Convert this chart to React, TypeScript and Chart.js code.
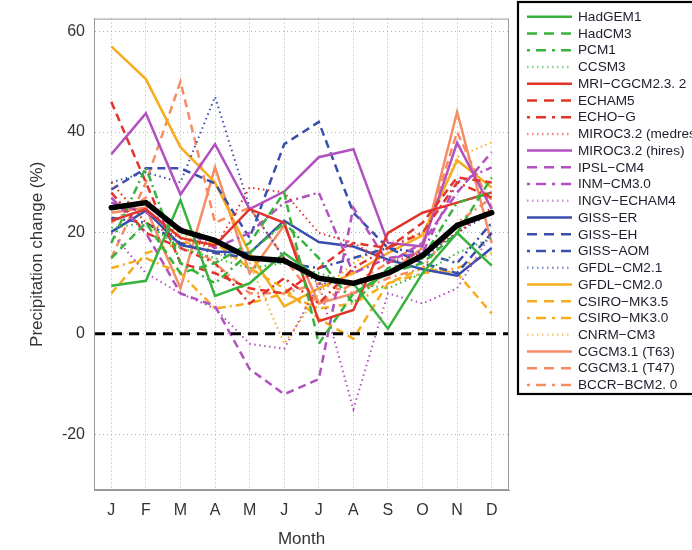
import React, { useEffect, useRef } from "react";
import { Chart, registerables } from "chart.js";

Chart.register(...registerables);

const months = ["J", "F", "M", "A", "M", "J", "J", "A", "S", "O", "N", "D"];
const yTicks = [60, 40, 20, 0, -20];
const zeroLevel = 0;

const hadGEM1 = [9.5, 10.5, 26.5, 7.5, 10, 16, 11, 10, 1, 12, 20, 13.5];
const hadCM3 = [15, 22, 12, 14, 18, 28, -2, 8, 12, 14, 20, 31];
const pcm1 = [18, 33, 14, 10, 16, 22, 15, 6, 13, 15, 26, 28];
const ccsm3 = [21, 22, 17, 15, 13, 14, 12, 10, 9, 12, 16, 19];
const mri = [22.4, 24.7, 19, 17.5, 24.7, 22, 2.5, 4.7, 20, 24, 26, 28];
const echam5 = [46, 30, 14, 12, 9, 8, 13, 18, 17, 22, 31, 30];
const echoG = [28, 20, 17, 14, 6, 11, 6, 13, 17, 20, 30, 27];
const mirocMed = [30, 22, 19, 17, 29, 28, 20, 18, 14, 16, 20, 25];
const mirocHi = [35.6, 43.7, 27.6, 37.6, 24.7, 28.2, 35, 36.6, 18, 17.3, 37.9, 24.7];
const ipsl = [27, 20, 8, 5.5, -7, -12, -9, 25, 14, 18, 28, 36];
const inm = [26, 24, 21, 17, 20, 26, 28, 12, 15, 16, 30, 33];
const ingv = [20, 12, 8, 5, -2, -3, 10, -15, 8, 6, 9, 20];
const gissER = [20.2, 24.4, 17.6, 16.3, 16, 22.4, 18.2, 17.3, 14.7, 12.8, 11.5, 17];
const gissEH = [28.6, 32.8, 32.8, 29.8, 19, 37.6, 42, 24, 17, 14, 12, 20];
const gissAOM = [23, 22, 18, 16, 15, 14, 13, 15, 17, 16, 14, 22];
const gfdl21 = [30, 32, 30, 47, 25, 15, 10, 10, 12, 15, 20, 24];
const gfdl20 = [57, 50.5, 37, 30, 16, 5.4, 9, 12, 16, 19.5, 34.4, 29];
const csiro35 = [8, 16, 18, 18, 13, 9, 3, -1, 10, 13, 12, 4];
const csiro30 = [13, 15, 12, 5, 6, 8, 5, 6, 10, 12, 13, 16];
const cnrm = [30, 22, 20, 16, 14, -2, 8, 14, 18, 20, 35, 38];
const cgcmT63 = [24, 25, 9, 33, 12, 21.5, 6, 8, 12, 17, 44, 18];
const cgcmT47 = [15, 30, 50, 22, 25, 15, 6, 10, 14, 18, 40, 25];
const bccr = [22, 27, 19, 14, 8, 8, 10, 8, 11, 13, 22, 27];
const modelMean = [25, 26, 20.5, 18.5, 15, 14.5, 11, 10, 12, 15.5, 21.5, 24];

const GREEN = "rgb(55,178,60)";
const RED = "rgb(226,52,42)";
const MAGENTA = "rgb(178,80,192)";
const BLUE = "rgb(58,78,172)";
const ORANGE = "rgb(247,172,30)";
const SALMON = "rgb(246,140,100)";

type Sty = "solid" | "dash" | "dashdot" | "dot";

const models: { label: string; data: number[]; color: string; sty: Sty }[] = [
  { label: "HadGEM1", data: hadGEM1, color: GREEN, sty: "solid" },
  { label: "HadCM3", data: hadCM3, color: GREEN, sty: "dash" },
  { label: "PCM1", data: pcm1, color: GREEN, sty: "dashdot" },
  { label: "CCSM3", data: ccsm3, color: GREEN, sty: "dot" },
  { label: "MRI−CGCM2.3. 2", data: mri, color: RED, sty: "solid" },
  { label: "ECHAM5", data: echam5, color: RED, sty: "dash" },
  { label: "ECHO−G", data: echoG, color: RED, sty: "dashdot" },
  { label: "MIROC3.2 (medres)", data: mirocMed, color: RED, sty: "dot" },
  { label: "MIROC3.2 (hires)", data: mirocHi, color: MAGENTA, sty: "solid" },
  { label: "IPSL−CM4", data: ipsl, color: MAGENTA, sty: "dash" },
  { label: "INM−CM3.0", data: inm, color: MAGENTA, sty: "dashdot" },
  { label: "INGV−ECHAM4", data: ingv, color: MAGENTA, sty: "dot" },
  { label: "GISS−ER", data: gissER, color: BLUE, sty: "solid" },
  { label: "GISS−EH", data: gissEH, color: BLUE, sty: "dash" },
  { label: "GISS−AOM", data: gissAOM, color: BLUE, sty: "dashdot" },
  { label: "GFDL−CM2.1", data: gfdl21, color: BLUE, sty: "dot" },
  { label: "GFDL−CM2.0", data: gfdl20, color: ORANGE, sty: "solid" },
  { label: "CSIRO−MK3.5", data: csiro35, color: ORANGE, sty: "dash" },
  { label: "CSIRO−MK3.0", data: csiro30, color: ORANGE, sty: "dashdot" },
  { label: "CNRM−CM3", data: cnrm, color: ORANGE, sty: "dot" },
  { label: "CGCM3.1 (T63)", data: cgcmT63, color: SALMON, sty: "solid" },
  { label: "CGCM3.1 (T47)", data: cgcmT47, color: SALMON, sty: "dash" },
  { label: "BCCR−BCM2. 0", data: bccr, color: SALMON, sty: "dashdot" },
];

const plotDash: Record<Sty, number[]> = {
  solid: [],
  dash: [8, 5],
  dashdot: [8, 4, 2, 4],
  dot: [1.5, 3.5],
};
const legendDash: Record<Sty, number[]> = {
  solid: [],
  dash: [10, 7],
  dashdot: [3, 6, 10, 6],
  dot: [1.5, 3.5],
};

const FONT = '"Liberation Sans", Arial, Helvetica, sans-serif';

const framePlugin = {
  id: "frameAndLegend",
  afterDatasetsDraw(chart: any) {
    const ctx = chart.ctx;
    const a = chart.chartArea;
    const y0 = chart.scales.y.getPixelForValue(zeroLevel);
    ctx.save();
    ctx.strokeStyle = "#000";
    ctx.lineWidth = 3;
    ctx.setLineDash([10, 7]);
    ctx.beginPath();
    ctx.moveTo(a.left + 1, y0);
    ctx.lineTo(a.right - 1, y0);
    ctx.stroke();
    ctx.restore();
  },
  afterDraw(chart: any) {
    const ctx = chart.ctx;
    const a = chart.chartArea;
    ctx.save();
    ctx.setLineDash([]);
    ctx.strokeStyle = "#9a9a9a";
    ctx.lineWidth = 1;
    ctx.strokeRect(a.left + 0.5, a.top + 0.5, a.right - a.left - 1, a.bottom - a.top - 1);

    // legend box
    ctx.fillStyle = "#ffffff";
    ctx.fillRect(518, 2, 200, 392);
    ctx.strokeStyle = "#000";
    ctx.lineWidth = 2.2;
    ctx.strokeRect(518, 2, 200, 392);
    ctx.font = "13.6px " + FONT;
    ctx.textBaseline = "middle";
    ctx.textAlign = "left";
    models.forEach((m, i) => {
      const y = 16.7 + i * 16.74;
      ctx.setLineDash(legendDash[m.sty]);
      ctx.strokeStyle = m.color;
      ctx.globalAlpha = m.sty === "dot" ? 0.6 : 1;
      ctx.lineWidth = 2.5;
      ctx.beginPath();
      ctx.moveTo(527, y);
      ctx.lineTo(572, y);
      ctx.stroke();
      ctx.globalAlpha = 1;
      ctx.setLineDash([]);
      ctx.fillStyle = "#1e1e2c";
      ctx.fillText(m.label, 578, y + 0.5);
    });
    ctx.restore();
  },
};

export default function App() {
  const ref = useRef<HTMLCanvasElement | null>(null);
  useEffect(() => {
    if (!ref.current) return;
    const datasets: any[] = [
      {
        label: "mean",
        data: modelMean,
        borderColor: "#000",
        borderWidth: 5.5,
        pointRadius: 0,
        borderCapStyle: "round",
        borderJoinStyle: "round",
        order: 0,
      },
      ...models.map((m) => ({
        label: m.label,
        data: m.data,
        borderColor: m.color,
        borderWidth: m.sty === "dot" ? 2 : 2.5,
        borderDash: plotDash[m.sty],
        pointRadius: 0,
        order: 1,
        tension: 0,
      })),
    ];
    const chart = new Chart(ref.current, {
      type: "line",
      data: { labels: months, datasets },
      options: {
        animation: false,
        responsive: true,
        maintainAspectRatio: false,
        layout: { padding: { top: 8, right: 183, left: 0, bottom: 0 } },
        plugins: { legend: { display: false }, tooltip: { enabled: false } },
        scales: {
          x: {
            type: "category",
            offset: true,
            grid: { offset: false, color: "#b0b0b0", lineWidth: 1, drawTicks: false },
            border: { display: true, color: "#9a9a9a", dash: [1, 3] },
            ticks: { color: "#333", font: { size: 16, family: FONT }, padding: 11, autoSkip: false, maxRotation: 0 },
            title: { display: true, text: "Month", color: "#333", font: { size: 17, family: FONT }, padding: { top: 0, bottom: 0 } },
            afterFit: (s: any) => {
              s.height = 60;
            },
          },
          y: {
            min: -31,
            max: 62.5,
            afterBuildTicks: (s: any) => {
              s.ticks = yTicks.map((v) => ({ value: v }));
            },
            grid: { color: "#b0b0b0", lineWidth: 1, drawTicks: false },
            border: { display: true, color: "#9a9a9a", dash: [1, 3] },
            ticks: { color: "#333", font: { size: 16, family: FONT }, padding: 9 },
            title: {
              display: true,
              text: "Precipitation change (%)",
              color: "#333",
              font: { size: 17, family: FONT },
              padding: { top: 27, bottom: 0 },
            },
            afterFit: (s: any) => {
              s.width = 94;
            },
          },
        },
      },
      plugins: [framePlugin],
    });
    return () => chart.destroy();
  }, []);
  return (
    <div style={{ position: "fixed", left: 0, top: 0, width: 692, height: 550, background: "#fff" }}>
      <canvas ref={ref} />
    </div>
  );
}
